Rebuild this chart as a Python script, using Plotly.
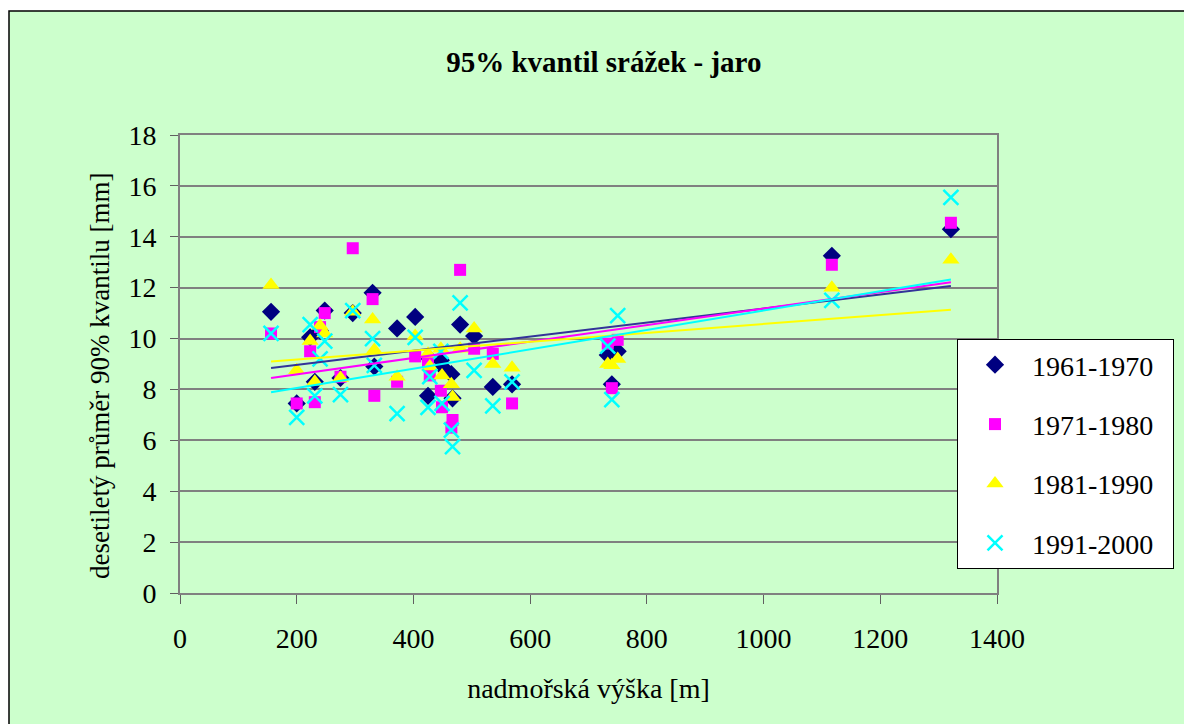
import numpy as np
import plotly.graph_objects as go

# station elevation [m]
elevation = [156, 200, 223, 231, 240, 248, 275, 296, 330, 333, 372, 403, 425, 428,
             447, 449, 465, 467, 480, 504, 536, 569, 733, 740, 750, 1117, 1321]
# decade means of the 90% quantile [mm]
s1961_1970 = [11.05, 7.45, 10.05, 8.3, 10.3, 11.1, 8.45, 11.0, 11.8, 8.9, 10.4, 10.85, 7.75, 9.2,
              9.15, 8.9, 8.6, 7.65, 10.55, 10.1, 8.1, 8.2, 9.35, 8.2, 9.5, 13.25, 14.3]
s1971_1980 = [10.2, 7.45, 9.5, 7.5, 10.45, 11.0, 8.5, 13.55, 11.55, 7.75, 8.3, 9.3, 9.1, 8.55,
              7.95, 7.3, 6.5, 6.8, 12.7, 9.6, 9.4, 7.45, 9.8, 8.05, 9.95, 12.9, 14.55]
s1981_1990 = [12.1, 8.75, 9.9, 8.3, 10.5, 10.2, 8.45, 11.05, 10.75, 9.55, 8.5, 10.1, 9.4, 8.9,
              9.6, 8.55, 8.2, 7.7, 9.6, 10.4, 9.0, 8.85, 9.0, 8.95, 9.2, 12.0, 13.1]
s1991_2000 = [10.2, 6.9, 10.55, 7.75, 9.2, 9.9, 7.8, 11.1, 10.0, 8.95, 7.05, 10.05, 7.3, 8.5,
              9.5, 7.45, 6.4, 5.75, 11.4, 8.75, 7.35, 8.3, 9.7, 7.6, 10.9, 11.5, 15.55]

names = ["1961-1970", "1971-1980", "1981-1990", "1991-2000"]
series = [s1961_1970, s1971_1980, s1981_1990, s1991_2000]
x_ticks = [0, 200, 400, 600, 800, 1000, 1200, 1400]
y_ticks = [0, 2, 4, 6, 8, 10, 12, 14, 16, 18]

marker_styles = [
    dict(symbol="diamond", size=14, color="#000080"),
    dict(symbol="square", size=12, color="#FF00FF"),
    dict(symbol="triangle-up", size=15, color="#FFFF00"),
    dict(symbol="x-thin", size=15, color="#00FFFF", line=dict(color="#00FFFF", width=2.5)),
]
line_colors = ["#333399", "#FF00FF", "#FFFF00", "#00FFFF"]

FONT = "Liberation Serif, Times New Roman, serif"
fig = go.Figure()
for i, (nm, vals) in enumerate(zip(names, series)):
    fig.add_trace(go.Scatter(x=elevation, y=vals, mode="markers",
                             name=nm + "\u00a0\u00a0",
                             marker=marker_styles[i], legendgroup=nm))
xs = np.array(elevation, dtype=float)
xl = np.array([xs.min(), xs.max()])
for i, vals in enumerate(series):
    k, q = np.polyfit(xs, np.array(vals), 1)
    fig.add_trace(go.Scatter(x=xl, y=k * xl + q, mode="lines", showlegend=False,
                             line=dict(color=line_colors[i], width=2), hoverinfo="skip"))

fig.update_layout(
    width=1184, height=724,
    margin=dict(l=180, r=187, t=135, b=131, autoexpand=False),
    paper_bgcolor="white", plot_bgcolor="white",
    font=dict(family=FONT, size=28, color="black"),
    title=dict(text="<b>95% kvantil srážek - jaro</b>", x=0.51, xanchor="center",
               y=0.915, yanchor="middle",
               font=dict(size=29, family=FONT, color="black")),
    showlegend=True,
    legend=dict(x=(957 - 180) / 817, y=(593 - 339) / 458, xref="paper", yref="paper",
                xanchor="left", yanchor="top", bgcolor="white",
                bordercolor="black", borderwidth=1,
                font=dict(size=28, family=FONT, color="black"), tracegroupgap=20,
                itemwidth=64),
    shapes=[dict(type="rect", xref="paper", yref="paper",
                 x0=(9 - 180) / 817, x1=(1260 - 180) / 817,
                 y0=-(780 - 593) / 458, y1=(593 - 11) / 458,
                 fillcolor="#CCFFCC", line=dict(color="black", width=1.5),
                 layer="below")],
    annotations=[dict(text="desetiletý průměr 90% kvantilu [mm]", textangle=-90,
                      xref="paper", yref="paper", x=(100 - 180) / 817,
                      y=(593 - 376) / 458, xanchor="center", yanchor="middle",
                      showarrow=False,
                      font=dict(size=27, family=FONT, color="black"))],
)
fig.update_xaxes(range=[0, 1400], tickvals=x_ticks, showgrid=False, zeroline=False,
                 showline=True, linecolor="#808080", linewidth=2, mirror=True,
                 ticks="outside", ticklen=9, tickcolor="#606060", ticklabelstandoff=10,
                 tickfont=dict(family=FONT, size=28, color="black"),
                 title=dict(text="nadmořská výška [m]", standoff=26,
                            font=dict(size=28, family=FONT, color="black")))
fig.update_yaxes(range=[0, 18], tickvals=y_ticks, showgrid=True, gridcolor="#808080",
                 gridwidth=1.5, zeroline=False,
                 showline=True, linecolor="#808080", linewidth=2, mirror=True,
                 ticks="outside", ticklen=8, tickcolor="#606060", ticklabelstandoff=8,
                 tickfont=dict(family=FONT, size=28, color="black"))
fig.write_html("out.html")
